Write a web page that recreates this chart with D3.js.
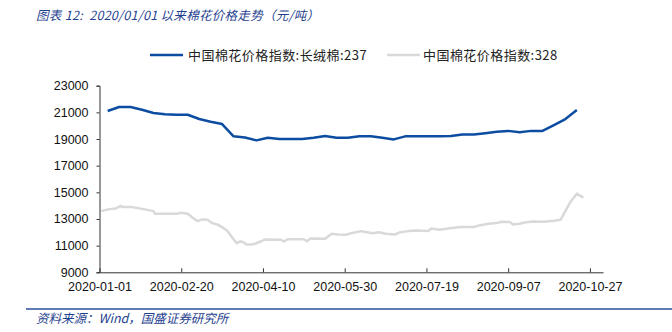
<!DOCTYPE html>
<html>
<head>
<meta charset="utf-8">
<script src="https://cdn.jsdelivr.net/npm/d3@7/dist/d3.min.js"></script>
<style>
  html, body { margin: 0; padding: 0; background: #fff; }
  svg { display: block; }
  text { white-space: pre; }
</style>
</head>
<body>
<svg id="chart" width="672" height="332"></svg>
<script>
// Long-staple cotton index 237 (weekly)
const longStapleDates = [
  "2020-01-06","2020-01-13","2020-01-20","2020-01-27","2020-02-03","2020-02-10","2020-02-17",
  "2020-02-24","2020-03-02","2020-03-09","2020-03-16","2020-03-23","2020-03-30","2020-04-06",
  "2020-04-13","2020-04-20","2020-04-27","2020-05-04","2020-05-11","2020-05-18","2020-05-25",
  "2020-06-01","2020-06-08","2020-06-15","2020-06-22","2020-06-29","2020-07-06","2020-07-13",
  "2020-07-20","2020-07-27","2020-08-03","2020-08-10","2020-08-17","2020-08-24","2020-08-31",
  "2020-09-07","2020-09-14","2020-09-21","2020-09-28","2020-10-05","2020-10-12","2020-10-19"
];
const longStapleValues = [
  21100, 21400, 21400, 21200, 20950, 20850, 20820,
  20820, 20500, 20300, 20120, 19200, 19110, 18900,
  19100, 19000, 19000, 19000, 19100, 19230, 19100,
  19100, 19210, 19210, 19100, 18970, 19200, 19210,
  19210, 19210, 19220, 19340, 19340, 19440, 19540,
  19610, 19500, 19610, 19610, 20050, 20500, 21170
];

// Cotton index 328
const index328Dates = [
  "2020-01-02","2020-01-07","2020-01-11","2020-01-14","2020-01-15","2020-01-21","2020-01-28",
  "2020-02-03","2020-02-04","2020-02-17","2020-02-20","2020-02-24","2020-02-27","2020-03-01",
  "2020-03-04","2020-03-07","2020-03-10","2020-03-13","2020-03-16","2020-03-19","2020-03-22",
  "2020-03-25","2020-03-27","2020-03-29","2020-03-31","2020-04-03","2020-04-05","2020-04-09",
  "2020-04-11","2020-04-21","2020-04-23","2020-04-25","2020-05-05","2020-05-07","2020-05-09",
  "2020-05-18","2020-05-22","2020-05-26","2020-05-31","2020-06-03","2020-06-09","2020-06-11",
  "2020-06-16","2020-06-20","2020-06-24","2020-06-30","2020-07-03","2020-07-08","2020-07-13",
  "2020-07-20","2020-07-22","2020-07-27","2020-08-01","2020-08-09","2020-08-17","2020-08-20",
  "2020-08-26","2020-08-31","2020-09-03","2020-09-08","2020-09-10","2020-09-14","2020-09-17",
  "2020-09-22","2020-09-29","2020-10-05","2020-10-09","2020-10-15","2020-10-19","2020-10-23"
];
const index328Values = [
  13590, 13740, 13790, 13990, 13890, 13890, 13740,
  13590, 13390, 13390, 13470, 13390, 13090, 12840,
  12970, 12950, 12690, 12590, 12390, 12140, 11640,
  11180, 11330, 11260, 11085, 11085, 11140, 11330,
  11460, 11440, 11310, 11480, 11480, 11330, 11535,
  11510, 11890, 11840, 11815, 11935, 12090, 12040,
  11935, 12010, 11890, 11840, 12010, 12090, 12140,
  12090, 12290, 12190, 12290, 12390, 12390, 12515,
  12640, 12690, 12790, 12770, 12590, 12640, 12740,
  12815, 12800, 12870, 12940, 14270, 14900, 14600
];

const xTickLabels = ["2020-01-01","2020-02-20","2020-04-10","2020-05-30","2020-07-19","2020-09-07","2020-10-27"];
const yTickValues = [9000, 11000, 13000, 15000, 17000, 19000, 21000, 23000];

const seriesNames = ["中国棉花价格指数:长绒棉:237", "中国棉花价格指数:328"];
const seriesColors = ["#0c4da2", "#d9d9d9"];

const titleText = "图表 12:  2020/01/01 以来棉花价格走势（元/吨）";
const sourceText = "资料来源：Wind，国盛证券研究所";

const parse = d3.timeParse("%Y-%m-%d");
const fmt = d3.timeFormat("%Y-%m-%d");

const svg = d3.select("#chart");
const plot = { left: 99.5, right: 603, top: 85.7, bottom: 272.3 };

const x = d3.scaleTime()
  .domain([parse("2020-01-01"), parse("2020-11-04")])
  .range([plot.left, plot.right]);
const y = d3.scaleLinear()
  .domain([9000, 23000])
  .range([plot.bottom, plot.top]);

const ink = "#1f3f8f";
const numFont = "'Liberation Sans', Arial, sans-serif";
const cjkFont = "'Noto Sans CJK SC', 'Noto Sans', sans-serif";

// Title
svg.append("text")
  .attr("x", 36).attr("y", 20)
  .attr("font-family", cjkFont).attr("font-size", 12.5)
  .attr("font-style", "italic").attr("fill", ink)
  .attr("letter-spacing", 0.3)
  .text(titleText);

// Legend
const legend = [
  { x: 150, textX: 188 },
  { x: 387, textX: 423 }
];
legend.forEach((l, i) => {
  svg.append("line")
    .attr("x1", l.x).attr("x2", l.x + 33)
    .attr("y1", 55).attr("y2", 55)
    .attr("stroke", seriesColors[i]).attr("stroke-width", 2.5);
  svg.append("text")
    .attr("x", l.textX).attr("y", 59.5)
    .attr("font-family", cjkFont).attr("font-size", 13)
    .attr("letter-spacing", 0.45)
    .attr("fill", "#222")
    .text(seriesNames[i]);
});

// Y axis
const yAxis = svg.append("g")
  .attr("transform", `translate(${plot.left},0)`)
  .call(d3.axisLeft(y).tickValues(yTickValues).tickFormat(d3.format("d")).tickSize(3).tickPadding(8));
yAxis.select(".domain").attr("stroke", "#333");
yAxis.selectAll(".tick line").attr("stroke", "#333");
yAxis.selectAll("text")
  .attr("font-family", numFont).attr("font-size", 12.5).attr("fill", "#111");

// X axis, ticks pointing inward
const xAxis = svg.append("g")
  .attr("transform", `translate(0,${plot.bottom})`)
  .call(d3.axisBottom(x).tickValues(xTickLabels.map(parse)).tickFormat(fmt)
    .tickSizeInner(-4).tickSizeOuter(0).tickPadding(10));
xAxis.select(".domain").attr("stroke", "#333");
xAxis.selectAll(".tick line").attr("stroke", "#333");
xAxis.selectAll("text")
  .attr("font-family", numFont).attr("font-size", 12.5).attr("fill", "#111");

// Lines
const line = d3.line().x(d => x(d.date)).y(d => y(d.value));
const s328 = index328Dates.map((d, i) => ({ date: parse(d), value: index328Values[i] }));
const sLong = longStapleDates.map((d, i) => ({ date: parse(d), value: longStapleValues[i] }));

svg.append("path").datum(s328)
  .attr("d", line).attr("fill", "none")
  .attr("stroke", seriesColors[1]).attr("stroke-width", 2.5)
  .attr("stroke-linejoin", "round");
svg.append("path").datum(sLong)
  .attr("d", line).attr("fill", "none")
  .attr("stroke", seriesColors[0]).attr("stroke-width", 2.5)
  .attr("stroke-linejoin", "round");

// Source rule and note
svg.append("line")
  .attr("x1", 26).attr("x2", 672).attr("y1", 309).attr("y2", 309)
  .attr("stroke", "#2a4f9a").attr("stroke-width", 1.5);
svg.append("text")
  .attr("x", 36).attr("y", 323)
  .attr("font-family", cjkFont).attr("font-size", 12.5)
  .attr("font-style", "italic").attr("fill", ink)
  .text(sourceText);
</script>
</body>
</html>
